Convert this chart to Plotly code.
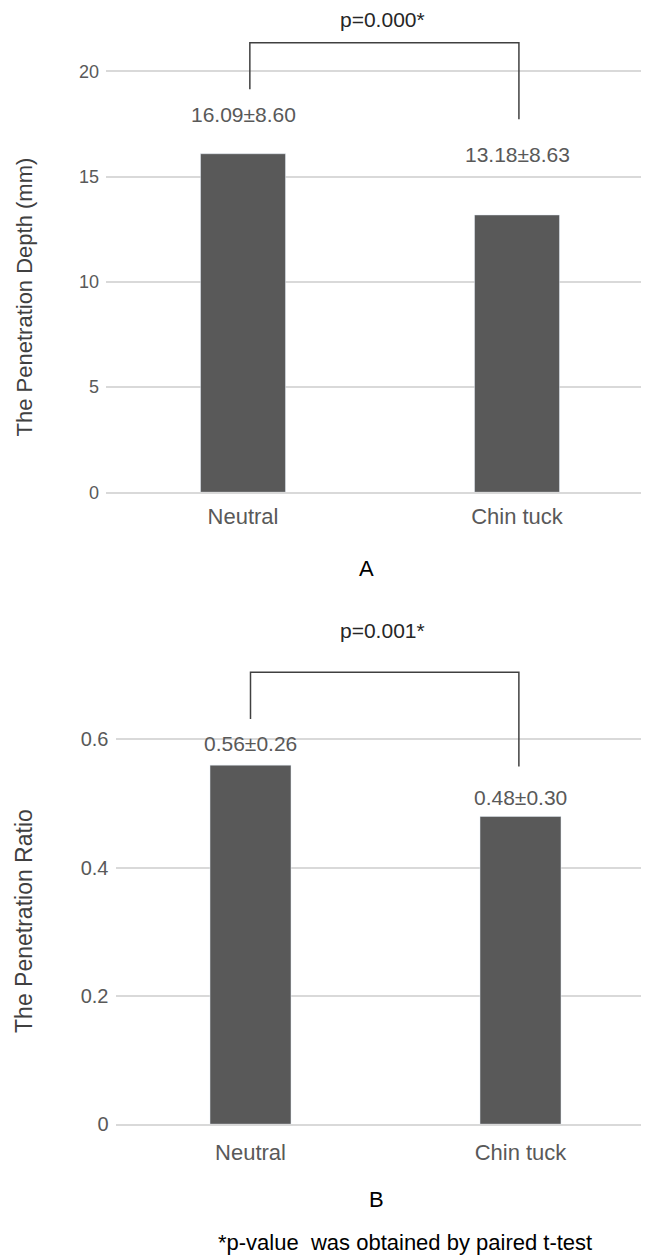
import plotly.graph_objects as go
from plotly.subplots import make_subplots

W, H = 649, 1258

categories = ["Neutral", "Chin tuck"]
depth_mean = [16.09, 13.18]
depth_sd = [8.60, 8.63]
ratio_mean = [0.56, 0.48]
ratio_sd = [0.26, 0.30]
depth_ticks = [0, 5, 10, 15, 20]
ratio_ticks = [0, 0.2, 0.4, 0.6]
p_depth = "p=0.000*"
p_ratio = "p=0.001*"

BAR = "#595959"
GRID = "#d9d9d9"
TICK = "#595959"
LINE = "#404040"
FONT = "Liberation Sans, Arial, sans-serif"


def py(px):
    # pixel row -> paper fraction
    return 1 - px / H


def px_(px):
    return px / W


fig = make_subplots(rows=2, cols=1)

fig.add_trace(go.Bar(x=categories, y=depth_mean, marker_color=BAR, width=0.31,
                     showlegend=False), row=1, col=1)
fig.add_trace(go.Bar(x=categories, y=ratio_mean, marker_color=BAR, width=0.3,
                     showlegend=False), row=2, col=1)

# ── axes
fig.update_layout(
    xaxis=dict(domain=[px_(98), px_(646)], range=[-0.5, 1.5], ticklabelstandoff=4),
    yaxis=dict(domain=[py(488.5), py(1.2)], range=[0, 22.96],
               tickvals=depth_ticks, tickfont=dict(size=18, color=TICK)),
    xaxis2=dict(domain=[px_(107.5), px_(647.5)], range=[-0.5, 1.5], ticklabelstandoff=8),
    yaxis2=dict(domain=[py(1126), py(608.6)], range=[0, 0.8],
                tickvals=ratio_ticks, tickfont=dict(size=20, color=TICK)),
)
fig.update_xaxes(showgrid=False, showline=True, linecolor=GRID, linewidth=1.5,
                 ticks="", tickfont=dict(size=22, color=TICK), zeroline=False)
fig.update_yaxes(showgrid=True, gridcolor=GRID, gridwidth=1.5, zeroline=False,
                 showline=False, ticks="", ticklabelstandoff=6)

annotations = []

# value labels above bars
for row, means, sds, shifts in [
    (1, depth_mean, depth_sd, [39, 60]),
    (2, ratio_mean, ratio_sd, [22, 19]),
]:
    xr = "x" if row == 1 else "x2"
    yr = "y" if row == 1 else "y2"
    for cat, m, s, sh in zip(categories, means, sds, shifts):
        annotations.append(dict(
            x=cat, y=m, xref=xr, yref=yr, text=f"{m:.2f}±{s:.2f}",
            showarrow=False, yshift=sh, xanchor="center", yanchor="middle",
            font=dict(size=21, color=TICK),
        ))

# significance brackets
brackets = [
    ("x", "y", 0.025, 1.007, 21.37, 19.15, 17.73, 0.51, 22.45, p_depth),
    ("x2", "y2", 0.0, 0.994, 0.705, 0.632, 0.558, 0.49, 0.77, p_ratio),
]
shapes = []
for xr, yr, x0, x1, ytop, yl, yr_, xt, yt, txt in brackets:
    shapes.append(dict(
        type="path", xref=xr, yref=yr,
        path=f"M {x0},{yl} L {x0},{ytop} L {x1},{ytop} L {x1},{yr_}",
        line=dict(color=LINE, width=1.5),
    ))
    annotations.append(dict(
        x=xt, y=yt, xref=xr, yref=yr, text=txt, showarrow=False,
        xanchor="center", yanchor="middle", borderpad=0,
        font=dict(size=21, color="#262626"),
    ))

# axis titles and panel letters
paper_text = [
    (16, 292, "The Penetration Depth (mm)", -90, 22, "#404040"),
    (16, 921, "The Penetration Ratio", -90, 23, "#404040"),
    (358, 565, "A", 0, 22, "#000000"),
    (368, 1202, "B", 0, 22, "#000000"),
    (397, 1245, "*p-value  was obtained by paired t-test", 0, 22, "#000000"),
]
for x, y, txt, ang, size, col in paper_text:
    annotations.append(dict(
        x=px_(x), y=py(y), xref="paper", yref="paper", text=txt,
        textangle=ang, showarrow=False, xanchor="center", yanchor="middle",
        borderpad=0, font=dict(size=size, color=col),
    ))

fig.update_layout(
    width=W, height=H,
    margin=dict(l=0, r=0, t=0, b=0),
    plot_bgcolor="white", paper_bgcolor="white",
    font=dict(family=FONT),
    annotations=annotations,
    shapes=shapes,
)

fig.write_html("out.html")
